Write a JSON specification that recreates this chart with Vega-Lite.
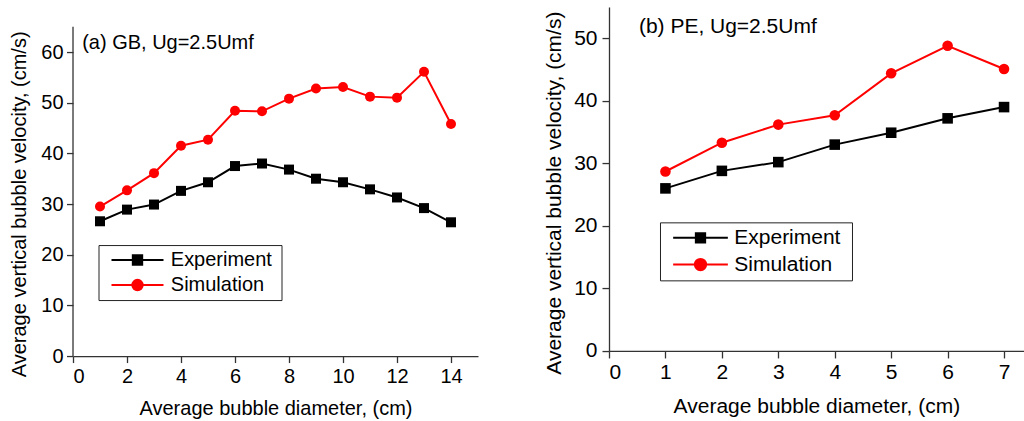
{
  "$schema": "https://vega.github.io/schema/vega-lite/v6.json",
  "padding": {"left": 9, "top": 7.05, "right": 0, "bottom": 0},
  "datasets": {
    "gb": [
      {"d": 1, "v": 26.6, "series": "Experiment"},
      {"d": 2, "v": 28.9, "series": "Experiment"},
      {"d": 3, "v": 29.9, "series": "Experiment"},
      {"d": 4, "v": 32.6, "series": "Experiment"},
      {"d": 5, "v": 34.3, "series": "Experiment"},
      {"d": 6, "v": 37.5, "series": "Experiment"},
      {"d": 7, "v": 38.0, "series": "Experiment"},
      {"d": 8, "v": 36.8, "series": "Experiment"},
      {"d": 9, "v": 35.0, "series": "Experiment"},
      {"d": 10, "v": 34.3, "series": "Experiment"},
      {"d": 11, "v": 32.9, "series": "Experiment"},
      {"d": 12, "v": 31.3, "series": "Experiment"},
      {"d": 13, "v": 29.2, "series": "Experiment"},
      {"d": 14, "v": 26.4, "series": "Experiment"},
      {"d": 1, "v": 29.5, "series": "Simulation"},
      {"d": 2, "v": 32.7, "series": "Simulation"},
      {"d": 3, "v": 36.1, "series": "Simulation"},
      {"d": 4, "v": 41.5, "series": "Simulation"},
      {"d": 5, "v": 42.7, "series": "Simulation"},
      {"d": 6, "v": 48.4, "series": "Simulation"},
      {"d": 7, "v": 48.3, "series": "Simulation"},
      {"d": 8, "v": 50.8, "series": "Simulation"},
      {"d": 9, "v": 52.8, "series": "Simulation"},
      {"d": 10, "v": 53.1, "series": "Simulation"},
      {"d": 11, "v": 51.2, "series": "Simulation"},
      {"d": 12, "v": 51.0, "series": "Simulation"},
      {"d": 13, "v": 56.1, "series": "Simulation"},
      {"d": 14, "v": 45.8, "series": "Simulation"}
    ],
    "pe": [
      {"d": 1, "v": 26.0, "series": "Experiment"},
      {"d": 2, "v": 28.8, "series": "Experiment"},
      {"d": 3, "v": 30.2, "series": "Experiment"},
      {"d": 4, "v": 33.0, "series": "Experiment"},
      {"d": 5, "v": 34.9, "series": "Experiment"},
      {"d": 6, "v": 37.2, "series": "Experiment"},
      {"d": 7, "v": 39.0, "series": "Experiment"},
      {"d": 1, "v": 28.7, "series": "Simulation"},
      {"d": 2, "v": 33.3, "series": "Simulation"},
      {"d": 3, "v": 36.2, "series": "Simulation"},
      {"d": 4, "v": 37.7, "series": "Simulation"},
      {"d": 5, "v": 44.4, "series": "Simulation"},
      {"d": 6, "v": 48.8, "series": "Simulation"},
      {"d": 7, "v": 45.1, "series": "Simulation"}
    ]
  },
  "columns": 2,
  "align": "none",
  "spacing": 65,
  "resolve": {
    "scale": {"color": "independent", "shape": "independent"},
    "legend": {"color": "independent", "shape": "independent"}
  },
  "concat": [
    {
      "width": 405,
      "height": 349,
      "layer": [
        {
          "data": {"name": "gb"},
          "mark": {"type": "line", "strokeWidth": 2},
          "encoding": {
            "x": {
              "field": "d", "type": "quantitative",
              "scale": {"domain": [0, 15], "nice": false, "zero": false},
              "axis": {
                "title": "Average bubble diameter, (cm)",
                "values": [0,1,2,3,4,5,6,7,8,9,10,11,12,13,14,15],
                "labelExpr": "datum.value % 2 === 0 && datum.value < 15 ? datum.label : ''",
                "tickSize": {"condition": {"test": "datum.value % 2 !== 0", "value": 3}, "value": 6.5},
                "labelPadding": 3.5,
                "titleBaseline": "alphabetic", "titleY": 58.8,
                "labelFontSize": 20, "titleFontSize": 20
              }
            },
            "y": {
              "field": "v", "type": "quantitative",
              "scale": {"domain": [0, 68.88], "nice": false, "zero": false},
              "axis": {
                "title": "Average vertical bubble velocity, (cm/s)",
                "domain": false,
                "values": [0,5,10,15,20,25,30,35,40,45,50,55,60,65],
                "labelExpr": "datum.value % 10 === 0 ? datum.label : ''",
                "tickSize": {"condition": {"test": "datum.value % 10 !== 0", "value": 3}, "value": 6.5},
                "labelPadding": 3.5,
                "titleBaseline": "alphabetic", "titleX": -47.2, "titleY": 196.8,
                "labelFontSize": 20, "titleFontSize": 20
              }
            },
            "color": {
              "field": "series", "type": "nominal",
              "scale": {"domain": ["Experiment", "Simulation"], "range": ["#000000", "#ff0000"]},
              "legend": {
                "orient": "none", "legendX": 25.5, "legendY": 238, "title": null,
                "padding": 5, "strokeColor": "#222222", "fillColor": "#ffffff",
                "labelFont": "Liberation Sans", "labelFontSize": 20, "labelColor": "#000000",
                "labelExpr": "datum.label + '\u2009\u200b'",
                "symbolSize": 2704, "symbolStrokeWidth": 2, "symbolOffset": 7, "labelOffset": 6.3,
                "clipHeight": 20, "rowPadding": 5,
                "encode": {
                  "symbols": {
                    "update": {
                      "shape": {"signal": "datum.value === 'Experiment' ? 'M-1,0L1,0M-0.18,-0.18L0.18,-0.18L0.18,0.18L-0.18,0.18Z' : 'M-1,0L1,0M0.2,0A0.2,0.2,0,1,1,-0.2,0A0.2,0.2,0,1,1,0.2,0Z'"},
                      "fill": {"signal": "datum.value === 'Experiment' ? '#000000' : '#ff0000'"},
                      "stroke": {"signal": "datum.value === 'Experiment' ? '#000000' : '#ff0000'"},
                      "strokeWidth": {"value": 2},
                      "opacity": {"value": 1}
                    }
                  }
                }
              }
            }
          }
        },
        {
          "data": {"values": [{"from": 0, "to": 65}]},
          "mark": {"type": "rule", "color": "#333333", "strokeWidth": 1.3},
          "encoding": {
            "x": {"datum": 0, "type": "quantitative"},
            "y": {"field": "from", "type": "quantitative"},
            "y2": {"field": "to"}
          }
        },
        {
          "data": {"name": "gb"},
          "mark": {"type": "point", "filled": true, "opacity": 1, "size": 100},
          "encoding": {
            "x": {"field": "d", "type": "quantitative"},
            "y": {"field": "v", "type": "quantitative"},
            "color": {"field": "series", "type": "nominal"},
            "shape": {"condition": {"test": "datum.series === 'Experiment'", "value": "square"}, "value": "circle"}
          }
        },
        {
          "data": {"values": [{"label": "(a) GB, Ug=2.5Umf"}]},
          "mark": {"type": "text", "align": "left", "baseline": "alphabetic", "font": "Liberation Sans", "fontSize": 20, "color": "#000000"},
          "encoding": {
            "x": {"datum": 0.34, "type": "quantitative"},
            "y": {"datum": 60.66, "type": "quantitative"},
            "text": {"field": "label"}
          }
        }
      ]
    },
    {
      "width": 414.8,
      "height": 343.9,
      "layer": [
        {
          "data": {"name": "pe"},
          "mark": {"type": "line", "strokeWidth": 2},
          "encoding": {
            "x": {
              "field": "d", "type": "quantitative",
              "scale": {"domain": [0, 7.35], "nice": false, "zero": false},
              "axis": {
                "title": "Average bubble diameter, (cm)",
                "values": [0,0.5,1,1.5,2,2.5,3,3.5,4,4.5,5,5.5,6,6.5,7],
                "labelExpr": "datum.value % 1 === 0 ? format(datum.value, 'd') : ''",
                "tickSize": {"condition": {"test": "datum.value % 1 !== 0", "value": 3.5}, "value": 7},
                "labelPadding": 4,
                "titleBaseline": "alphabetic", "titleY": 61.7,
                "labelFontSize": 21, "titleFontSize": 21
              }
            },
            "y": {
              "field": "v", "type": "quantitative",
              "scale": {"domain": [0, 55], "nice": false, "zero": false},
              "axis": {
                "title": "Average vertical bubble velocity, (cm/s)",
                "values": [0,5,10,15,20,25,30,35,40,45,50,55],
                "labelExpr": "datum.value % 10 === 0 ? datum.label : ''",
                "tickSize": {"condition": {"test": "datum.value % 10 !== 0", "value": 3.5}, "value": 7},
                "labelPadding": 5,
                "titleBaseline": "alphabetic", "titleX": -48.7, "titleY": 185.6,
                "labelFontSize": 21, "titleFontSize": 21
              }
            },
            "color": {
              "field": "series", "type": "nominal",
              "scale": {"domain": ["Experiment", "Simulation"], "range": ["#000000", "#ff0000"]},
              "legend": {
                "orient": "none", "legendX": 51, "legendY": 215.3, "title": null,
                "padding": 5, "strokeColor": "#222222", "fillColor": "#ffffff",
                "labelFont": "Liberation Sans", "labelFontSize": 21, "labelColor": "#000000",
                "labelExpr": "datum.label + '\u00a0\u200b'",
                "symbolSize": 2992, "symbolStrokeWidth": 2, "symbolOffset": 7, "labelOffset": 5.3,
                "clipHeight": 21, "rowPadding": 4.7,
                "encode": {
                  "symbols": {
                    "update": {
                      "shape": {"signal": "datum.value === 'Experiment' ? 'M-1,0L1,0M-0.17,-0.17L0.17,-0.17L0.17,0.17L-0.17,0.17Z' : 'M-1,0L1,0M0.207,0A0.207,0.207,0,1,1,-0.207,0A0.207,0.207,0,1,1,0.207,0Z'"},
                      "fill": {"signal": "datum.value === 'Experiment' ? '#000000' : '#ff0000'"},
                      "stroke": {"signal": "datum.value === 'Experiment' ? '#000000' : '#ff0000'"},
                      "strokeWidth": {"value": 2},
                      "opacity": {"value": 1}
                    }
                  }
                }
              }
            }
          }
        },
        {
          "data": {"name": "pe"},
          "mark": {"type": "point", "filled": true, "opacity": 1, "size": 112},
          "encoding": {
            "x": {"field": "d", "type": "quantitative"},
            "y": {"field": "v", "type": "quantitative"},
            "color": {"field": "series", "type": "nominal"},
            "shape": {"condition": {"test": "datum.series === 'Experiment'", "value": "square"}, "value": "circle"}
          }
        },
        {
          "data": {"values": [{"label": "(b) PE, Ug=2.5Umf"}]},
          "mark": {"type": "text", "align": "left", "baseline": "alphabetic", "font": "Liberation Sans", "fontSize": 21, "color": "#000000"},
          "encoding": {
            "x": {"datum": 0.53, "type": "quantitative"},
            "y": {"datum": 50.8, "type": "quantitative"},
            "text": {"field": "label"}
          }
        }
      ]
    }
  ],
  "config": {
    "view": {"stroke": null},
    "font": "Liberation Sans",
    "axis": {
      "grid": false,
      "labelFont": "Liberation Sans",
      "titleFont": "Liberation Sans",
      "titleFontWeight": "normal",
      "labelColor": "#000000",
      "titleColor": "#000000",
      "domainColor": "#333333",
      "tickColor": "#333333",
      "domainWidth": 1.3,
      "tickWidth": 1.3,
      "labelAngle": 0
    }
  }
}
